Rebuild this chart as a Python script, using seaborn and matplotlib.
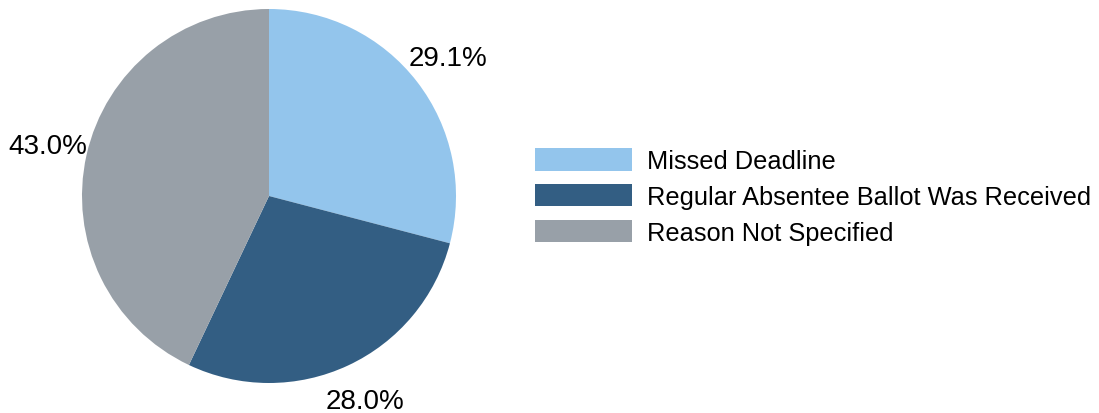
import matplotlib
matplotlib.use("Agg")
import matplotlib.pyplot as plt
import seaborn as sns

categories = ["Missed Deadline", "Regular Absentee Ballot Was Received", "Reason Not Specified"]
values = [29.1, 28.0, 43.0]
colors = ["#93C5EC", "#335E83", "#98A0A8"]

sns.set_theme(style="white")
plt.rcParams["font.family"] = ["Liberation Sans", "DejaVu Sans"]
plt.rcParams["text.color"] = "black"

fig = plt.figure(figsize=(10.99, 4.14), dpi=100)
ax = fig.add_axes([82 / 1099, 30 / 414, 374 / 1099, 374 / 414])

wedges, texts, autotexts = ax.pie(
    values,
    colors=colors,
    startangle=90,
    counterclock=False,
    autopct="%1.1f%%",
    pctdistance=1.21,
    wedgeprops=dict(linewidth=0),
    textprops=dict(fontsize=20, color="black"),
)
ax.set_xlim(-1, 1)
ax.set_ylim(-1, 1)
ax.set_axis_off()

leg = fig.legend(
    wedges,
    categories,
    loc="center left",
    bbox_to_anchor=(535 / 1099, 216.5 / 414),
    frameon=False,
    fontsize=18.3,
    handlelength=3.82,
    handleheight=0.98,
    handletextpad=0.59,
    labelspacing=0.42,
    borderpad=0,
    borderaxespad=0,
)
for t in leg.get_texts():
    t.set_color("black")

fig.savefig("out.png", dpi=100, facecolor="white")
